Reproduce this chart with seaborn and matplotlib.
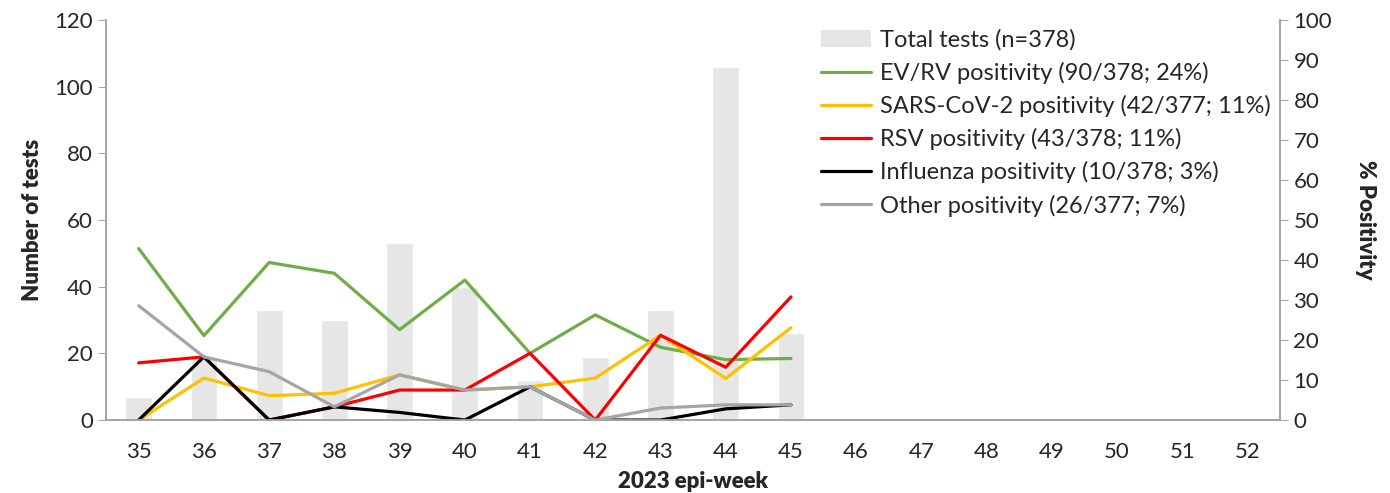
import matplotlib
matplotlib.use('Agg')
import matplotlib.pyplot as plt
from matplotlib.patches import Patch
from matplotlib.lines import Line2D
import seaborn as sns
import pandas as pd

# ── Data ──────────────────────────────────────────────────────────────────
weeks = [35, 36, 37, 38, 39, 40, 41, 42, 43, 44, 45]
all_weeks = list(range(35, 53))
total_tests = [7, 19, 33, 30, 53, 40, 12, 19, 33, 106, 26]

evrv_pct = [42.9, 21.1, 39.4, 36.7, 22.6, 35.0, 16.7, 26.3, 18.2, 15.1, 15.4]
sars_pct = [0.0, 10.5, 6.1, 6.7, 11.3, 7.5, 8.3, 10.5, 21.2, 10.4, 23.1]
rsv_pct = [14.3, 15.8, 0.0, 3.3, 7.5, 7.5, 16.7, 0.0, 21.2, 13.2, 30.8]
flu_pct = [0.0, 15.8, 0.0, 3.3, 1.9, 0.0, 8.3, 0.0, 0.0, 2.8, 3.8]
other_pct = [28.6, 15.8, 12.1, 3.3, 11.3, 7.5, 8.3, 0.0, 3.0, 3.8, 3.8]

series = [
    ('EV/RV positivity (90/378; 24%)', evrv_pct, '#70AD47'),
    ('SARS-CoV-2 positivity (42/377; 11%)', sars_pct, '#FFC000'),
    ('RSV positivity (43/378; 11%)', rsv_pct, '#FF0000'),
    ('Influenza positivity (10/378; 3%)', flu_pct, '#000000'),
    ('Other positivity (26/377; 7%)', other_pct, '#A5A5A5'),
]
bar_label = 'Total tests (n=378)'
bar_color = '#E6E6E6'
axis_color = '#A6A6A6'

sns.set_style('white')
plt.rcParams['font.family'] = ['Lato', 'DejaVu Sans']
FS = 16

fig, ax = plt.subplots(figsize=(13.9, 4.93), dpi=100)
fig.subplots_adjust(left=0.0763, right=0.921, top=0.959, bottom=0.148)

# ── Bars: total tests per week ────────────────────────────────────────────
df_bars = pd.DataFrame({'week': weeks, 'tests': total_tests})
sns.barplot(data=df_bars, x='week', y='tests', native_scale=True,
            color=bar_color, saturation=1, width=0.41, ax=ax)

# ── Lines: positivity per pathogen ────────────────────────────────────────
ax2 = ax.twinx()
for label, vals, col in series:
    sns.lineplot(x=weeks, y=vals, color=col, linewidth=2.3, ax=ax2,
                 solid_capstyle='round')

ax.set_xlim(34.5, 52.5)
ax.set_ylim(0, 120)
ax2.set_ylim(0, 100)
ax.set_xticks(all_weeks)
ax.set_xticks([w + 0.5 for w in range(34, 53)], minor=True)
ax.set_yticks(range(0, 121, 20))
ax2.set_yticks(range(0, 101, 10))

ax.tick_params(axis='x', which='major', length=0, labelsize=FS, pad=16)
ax.tick_params(axis='x', which='minor', length=6, color=axis_color, direction='out')
ax.tick_params(axis='y', length=6, color=axis_color, direction='out', labelsize=FS, left=True)
ax2.tick_params(axis='y', length=6, color=axis_color, direction='out', labelsize=FS, right=True)

for a in (ax, ax2):
    for s in a.spines.values():
        s.set_color(axis_color)
        s.set_linewidth(1.3)
    a.spines['top'].set_visible(False)

ax.set_xlabel('2023 epi-week', fontsize=FS, fontweight='heavy', labelpad=6)
ax.set_ylabel('Number of tests', fontsize=FS, fontweight='heavy', labelpad=8)
ax2.set_ylabel('% Positivity', fontsize=FS, fontweight='heavy', rotation=270, labelpad=32)

handles = [Patch(facecolor=bar_color, edgecolor='none', label=bar_label)]
handles += [Line2D([0], [0], color=col, linewidth=2.3, label=label) for label, _, col in series]
ax2.legend(handles=handles, loc='upper right', bbox_to_anchor=(1.004, 1.013), frameon=False,
           fontsize=17, handlelength=2.1, handletextpad=0.38, labelspacing=0.47,
           borderaxespad=0.2)

plt.savefig('out.png', dpi=100)
